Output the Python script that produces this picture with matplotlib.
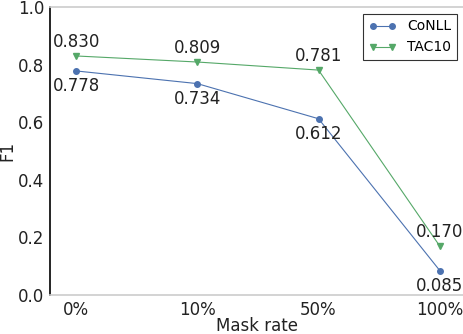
import matplotlib
matplotlib.use('Agg')
import matplotlib.pyplot as plt

# data
mask_rates = ['0%', '10%', '50%', '100%']
conll_f1 = [0.778, 0.734, 0.612, 0.085]
tac10_f1 = [0.830, 0.809, 0.781, 0.170]

blue = '#4C72B0'
green = '#55A868'

fig = plt.figure(figsize=(4.64, 3.34), dpi=100)
ax = fig.add_axes([50 / 464, 39 / 334, 414 / 464, 288 / 334])

x = list(range(len(mask_rates)))
ax.plot(x, conll_f1, color=blue, lw=0.8, marker='o', ms=4, label='CoNLL')
ax.plot(x, tac10_f1, color=green, lw=0.8, marker='v', ms=4, label='TAC10')

# value labels: CoNLL below the point, TAC10 above
for xi, v in zip(x, conll_f1):
    ax.annotate(f'{v:.3f}', (xi, v), xytext=(0, -11), textcoords='offset points',
                ha='center', va='center', fontsize=12, color='#222222')
for xi, v in zip(x, tac10_f1):
    ax.annotate(f'{v:.3f}', (xi, v), xytext=(0, 10), textcoords='offset points',
                ha='center', va='center', fontsize=12, color='#222222')

ax.set_xlim(-0.215, 3.2)
ax.set_ylim(0.0, 1.0)
ax.set_xticks(x)
ax.set_xticklabels(mask_rates)
ax.set_yticks([0.0, 0.2, 0.4, 0.6, 0.8, 1.0])
ax.tick_params(length=0, labelsize=12, colors='#222222', pad=4)
ax.set_xlabel('Mask rate', fontsize=12, color='#222222', labelpad=-1)
ax.set_ylabel('F1', fontsize=12, color='#222222', labelpad=1)

ax.spines['left'].set_color('black')
ax.spines['bottom'].set_color('#cccccc')
ax.spines['top'].set_color('#cccccc')
ax.spines['right'].set_visible(False)
for s in ['left', 'bottom', 'top']:
    ax.spines[s].set_linewidth(1.2)

leg = ax.legend(loc='upper right', fontsize=10, fancybox=False, edgecolor='black',
                borderaxespad=0.5, handlelength=2.0, numpoints=2)
leg.get_frame().set_linewidth(0.8)

fig.savefig('out.png', dpi=100)
